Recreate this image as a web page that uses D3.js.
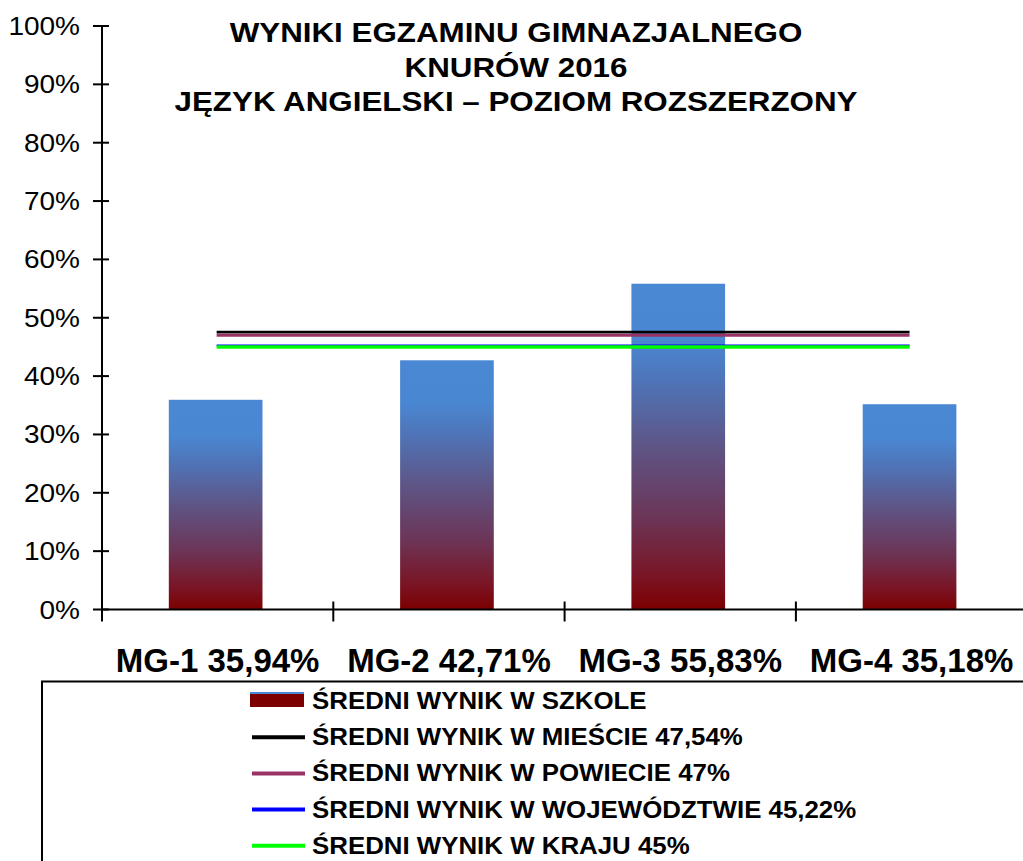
<!DOCTYPE html>
<html>
<head>
<meta charset="utf-8">
<script src="https://cdn.jsdelivr.net/npm/d3@7"></script>
<style>
  body { margin: 0; background: #fff; }
  svg { display: block; font-family: "Liberation Sans", Arial, sans-serif; }
</style>
</head>
<body>
<svg id="chart" width="1023" height="861"></svg>
<script>
// dane
const schools = ["MG-1", "MG-2", "MG-3", "MG-4"];
const schoolScores = [35.94, 42.71, 55.83, 35.18];
const schoolLabels = ["35,94%", "42,71%", "55,83%", "35,18%"];

const refNames = ["ŚREDNI WYNIK W MIEŚCIE 47,54%", "ŚREDNI WYNIK W POWIECIE 47%",
                  "ŚREDNI WYNIK W WOJEWÓDZTWIE 45,22%", "ŚREDNI WYNIK W KRAJU 45%"];
const refValues = [47.54, 47, 45.22, 45];
const refColors = ["#000000", "#993366", "#0000ff", "#00ff00"];
const refWidths = [2.7, 2.8, 2.4, 3.4];

const yTicks = [0, 10, 20, 30, 40, 50, 60, 70, 80, 90, 100];
const titleLines = ["WYNIKI EGZAMINU GIMNAZJALNEGO", "KNURÓW 2016", "JĘZYK ANGIELSKI – POZIOM ROZSZERZONY"];
const barLegend = "ŚREDNI WYNIK W SZKOLE";

const svg = d3.select("#chart");

const plot = {left: 102, top: 26, bottom: 609.5, band: 231.3};

const y = d3.scaleLinear().domain([0, 100]).range([plot.bottom, plot.top]);
const x = d3.scaleBand().domain(schools)
    .range([plot.left, plot.left + plot.band * schools.length])
    .paddingInner(0).paddingOuter(0);

// gradient slupkow
const grad = svg.append("defs").append("linearGradient")
    .attr("id", "barGrad")
    .attr("x1", 0).attr("y1", 0).attr("x2", 0).attr("y2", 1);
[[0, "#4a88d3"], [0.17, "#4a87d2"], [0.3, "#4f74b7"], [0.5, "#5e5586"], [0.72, "#6c3557"], [0.9, "#7a1424"], [1, "#7c0000"]]
    .forEach(s => grad.append("stop").attr("offset", s[0]).attr("stop-color", s[1]));

// pomocnik - rozciagniety tekst
function stretchText(g, x0, y0, txt, size, sx, anchor) {
    return g.append("text")
        .attr("transform", `translate(${x0},${y0}) scale(${sx},1)`)
        .attr("text-anchor", anchor)
        .attr("font-size", size)
        .text(txt);
}

// tytul
const tg = svg.append("g").attr("font-weight", "bold");
titleLines.forEach((t, i) => stretchText(tg, 516, 42 + i * 34.5, t, 27.5, 1.14, "middle"));

// os Y
const yg = svg.append("g");
yg.append("line").attr("x1", plot.left).attr("x2", plot.left)
    .attr("y1", y(100)).attr("y2", plot.bottom + 12)
    .attr("stroke", "#000").attr("stroke-width", 2);
yg.selectAll("line.tick").data(yTicks).enter().append("line")
    .attr("class", "tick")
    .attr("x1", plot.left - 9).attr("x2", plot.left + 7)
    .attr("y1", d => y(d)).attr("y2", d => y(d))
    .attr("stroke", "#000").attr("stroke-width", 2);
yTicks.forEach(d => stretchText(yg, 80, y(d) + 9, d + "%", 25, 1.12, "end"));

// slupki
const barW = plot.band * 0.405;
svg.append("g").selectAll("rect").data(schools).enter().append("rect")
    .attr("x", d => x(d) + (x.bandwidth() - barW) / 2 - 2)
    .attr("width", barW)
    .attr("y", (d, i) => y(schoolScores[i]))
    .attr("height", (d, i) => y(0) - y(schoolScores[i]))
    .attr("fill", "url(#barGrad)");

// os X
const xg = svg.append("g");
xg.append("line").attr("x1", plot.left).attr("x2", 1023)
    .attr("y1", plot.bottom).attr("y2", plot.bottom)
    .attr("stroke", "#000").attr("stroke-width", 2);
xg.selectAll("line.tick").data(schools.slice(1)).enter().append("line")
    .attr("class", "tick")
    .attr("x1", d => x(d)).attr("x2", d => x(d))
    .attr("y1", plot.bottom - 8).attr("y2", plot.bottom + 12)
    .attr("stroke", "#000").attr("stroke-width", 2);
xg.selectAll("text").data(schools).enter().append("text")
    .attr("x", d => x(d) + x.bandwidth() / 2)
    .attr("y", 672)
    .attr("text-anchor", "middle")
    .attr("font-size", 33).attr("font-weight", "bold")
    .text((d, i) => d + " " + schoolLabels[i]);

// linie srednich
const x0 = x(schools[0]) + x.bandwidth() / 2 - 1;
const x1 = x(schools[schools.length - 1]) + x.bandwidth() / 2 - 2;
svg.append("g").selectAll("line").data(refValues).enter().append("line")
    .attr("x1", x0).attr("x2", x1)
    .attr("y1", d => y(d)).attr("y2", d => y(d))
    .attr("stroke", (d, i) => refColors[i])
    .attr("stroke-width", (d, i) => refWidths[i]);

// legenda
const lg = svg.append("g");
lg.append("path").attr("d", "M42,861 V681.5 H1023")
    .attr("fill", "none").attr("stroke", "#000").attr("stroke-width", 2);
const rowY = i => 699 + i * 36.2;
lg.append("rect").attr("x", 250).attr("y", rowY(0) - 7).attr("width", 54).attr("height", 15).attr("fill", "#7c0000");
lg.append("rect").attr("x", 250).attr("y", rowY(0) - 7).attr("width", 54).attr("height", 2).attr("fill", "#4a88d3");
lg.selectAll("line").data(refColors).enter().append("line")
    .attr("x1", 252).attr("x2", 305)
    .attr("y1", (d, i) => rowY(i + 1) + 2).attr("y2", (d, i) => rowY(i + 1) + 2)
    .attr("stroke", d => d).attr("stroke-width", 4);
const legendTexts = [barLegend].concat(refNames);
legendTexts.forEach((t, i) => stretchText(lg, 312, rowY(i) + 10, t, 24, 1.077, "start").attr("font-weight", "bold"));
</script>
</body>
</html>
